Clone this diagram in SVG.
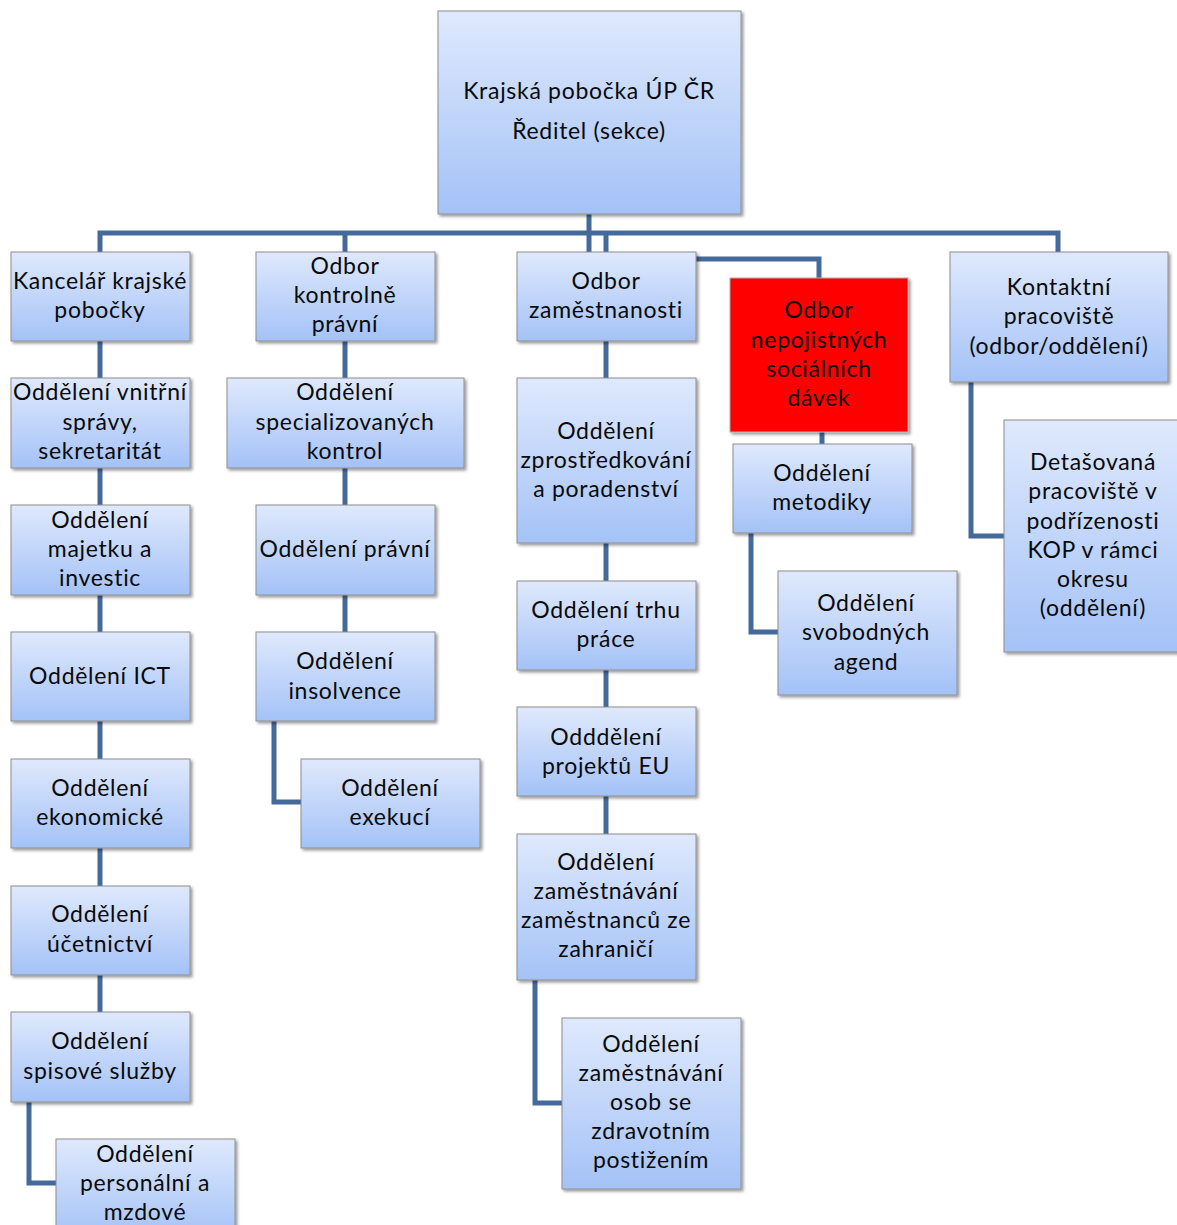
<svg xmlns="http://www.w3.org/2000/svg" width="1177" height="1225" viewBox="0 0 1177 1225">
<defs>
<linearGradient id="g" x1="0" y1="0" x2="0" y2="1">
<stop offset="0" stop-color="#dfe9fd"/>
<stop offset="1" stop-color="#a4c2f7"/>
</linearGradient>
<filter id="sh" x="-10%" y="-10%" width="130%" height="130%">
<feDropShadow dx="2" dy="2" stdDeviation="1.5" flood-color="#000" flood-opacity="0.4"/>
</filter>
<style>
.b{fill:url(#g);stroke:#8e8e8e;stroke-width:1;filter:url(#sh)}
.r{fill:#ff0000;stroke:#b0b0b0;stroke-width:1;filter:url(#sh)}
text{font-family:Lato,"Liberation Sans",sans-serif;font-size:23px;letter-spacing:0.7px;fill:#0a0a0a;text-anchor:middle}
.c path{fill:none;stroke:#44699b;stroke-width:5}
</style>
</defs>
<rect width="1177" height="1225" fill="#fff"/>
<g class="c" id="connectors">
<path d="M589,214V252"/>
<path d="M100,252V233H1058V252"/>
<path d="M345,233V252"/>
<path d="M606,233V252"/>
<path d="M696,259H819V278"/>
<path d="M100,341V378"/><path d="M100,468V505"/><path d="M100,595V632"/><path d="M100,721V759"/><path d="M100,848V886"/><path d="M100,975V1012"/>
<path d="M29,1102V1183H56"/>
<path d="M345,341V378"/><path d="M345,468V505"/><path d="M345,595V632"/>
<path d="M274,721V802H301"/>
<path d="M606,341V378"/><path d="M606,543V581"/><path d="M606,670V707"/><path d="M606,796V834"/>
<path d="M535,980V1103H562"/>
<path d="M822,432V444"/>
<path d="M751,533V632H778"/>
<path d="M971,382V536H1004"/>
</g>
<g id="top"><rect class="b" x="438" y="11" width="303" height="203"/><text x="589" y="99">Krajská pobočka ÚP ČR</text><text x="589" y="139">Ředitel (sekce)</text></g>
<g id="kancelar"><rect class="b" x="11" y="252" width="179" height="89"/><text x="100" y="289">Kancelář krajské</text><text x="100" y="318">pobočky</text></g>
<g id="kontrolne"><rect class="b" x="256" y="252" width="179" height="89"/><text x="345" y="274">Odbor</text><text x="345" y="303">kontrolně</text><text x="345" y="332">právní</text></g>
<g id="zamestnanosti"><rect class="b" x="517" y="252" width="179" height="89"/><text x="606" y="289">Odbor</text><text x="606" y="318">zaměstnanosti</text></g>
<g id="nepojistnych"><rect class="r" x="730" y="278" width="178" height="154"/><text x="819" y="318">Odbor</text><text x="819" y="348">nepojistných</text><text x="819" y="377">sociálních</text><text x="819" y="406">dávek</text></g>
<g id="kontaktni"><rect class="b" x="950" y="252" width="218" height="130"/><text x="1059" y="295">Kontaktní</text><text x="1059" y="324">pracoviště</text><text x="1059" y="354">(odbor/oddělení)</text></g>
<g id="vnitrni"><rect class="b" x="11" y="378" width="179" height="90"/><text x="100" y="400">Oddělení vnitřní</text><text x="100" y="430">správy,</text><text x="100" y="459">sekretaritát</text></g>
<g id="specializovanych"><rect class="b" x="227" y="378" width="237" height="90"/><text x="345" y="400">Oddělení</text><text x="345" y="430">specializovaných</text><text x="345" y="459">kontrol</text></g>
<g id="zprostredkovani"><rect class="b" x="517" y="378" width="179" height="165"/><text x="606" y="439">Oddělení</text><text x="606" y="468">zprostředkování</text><text x="606" y="497">a poradenství</text></g>
<g id="metodiky"><rect class="b" x="733" y="444" width="179" height="89"/><text x="822" y="481">Oddělení</text><text x="822" y="510">metodiky</text></g>
<g id="detasovana"><rect class="b" x="1004" y="420" width="180" height="232"/><text x="1093" y="470">Detašovaná</text><text x="1093" y="499">pracoviště v</text><text x="1093" y="529">podřízenosti</text><text x="1093" y="558">KOP v rámci</text><text x="1093" y="587">okresu</text><text x="1093" y="616">(oddělení)</text></g>
<g id="majetku"><rect class="b" x="11" y="505" width="179" height="90"/><text x="100" y="528">Oddělení</text><text x="100" y="557">majetku a</text><text x="100" y="586">investic</text></g>
<g id="pravni"><rect class="b" x="256" y="505" width="179" height="90"/><text x="345" y="557">Oddělení právní</text></g>
<g id="trhu"><rect class="b" x="517" y="581" width="179" height="89"/><text x="606" y="618">Oddělení trhu</text><text x="606" y="647">práce</text></g>
<g id="svobodnych"><rect class="b" x="778" y="571" width="179" height="124"/><text x="866" y="611">Oddělení</text><text x="866" y="640">svobodných</text><text x="866" y="670">agend</text></g>
<g id="ict"><rect class="b" x="11" y="632" width="179" height="89"/><text x="100" y="684">Oddělení ICT</text></g>
<g id="insolvence"><rect class="b" x="256" y="632" width="179" height="89"/><text x="345" y="669">Oddělení</text><text x="345" y="699">insolvence</text></g>
<g id="projektu"><rect class="b" x="517" y="707" width="179" height="89"/><text x="606" y="745">Odddělení</text><text x="606" y="774">projektů EU</text></g>
<g id="ekonomicke"><rect class="b" x="11" y="759" width="179" height="89"/><text x="100" y="796">Oddělení</text><text x="100" y="825">ekonomické</text></g>
<g id="exekuci"><rect class="b" x="301" y="759" width="179" height="89"/><text x="390" y="796">Oddělení</text><text x="390" y="825">exekucí</text></g>
<g id="zahranici"><rect class="b" x="517" y="834" width="179" height="146"/><text x="606" y="870">Oddělení</text><text x="606" y="899">zaměstnávání</text><text x="606" y="928">zaměstnanců ze</text><text x="606" y="957">zahraničí</text></g>
<g id="ucetnictvi"><rect class="b" x="11" y="886" width="179" height="89"/><text x="100" y="922">Oddělení</text><text x="100" y="952">účetnictví</text></g>
<g id="spisove"><rect class="b" x="11" y="1012" width="179" height="90"/><text x="100" y="1049">Oddělení</text><text x="100" y="1079">spisové služby</text></g>
<g id="zdravotnim"><rect class="b" x="562" y="1018" width="179" height="171"/><text x="651" y="1052">Oddělení</text><text x="651" y="1081">zaměstnávání</text><text x="651" y="1110">osob se</text><text x="651" y="1139">zdravotním</text><text x="651" y="1168">postižením</text></g>
<g id="personalni"><rect class="b" x="56" y="1139" width="179" height="100"/><text x="145" y="1162">Oddělení</text><text x="145" y="1191">personální a</text><text x="145" y="1220">mzdové</text></g>
</svg>
